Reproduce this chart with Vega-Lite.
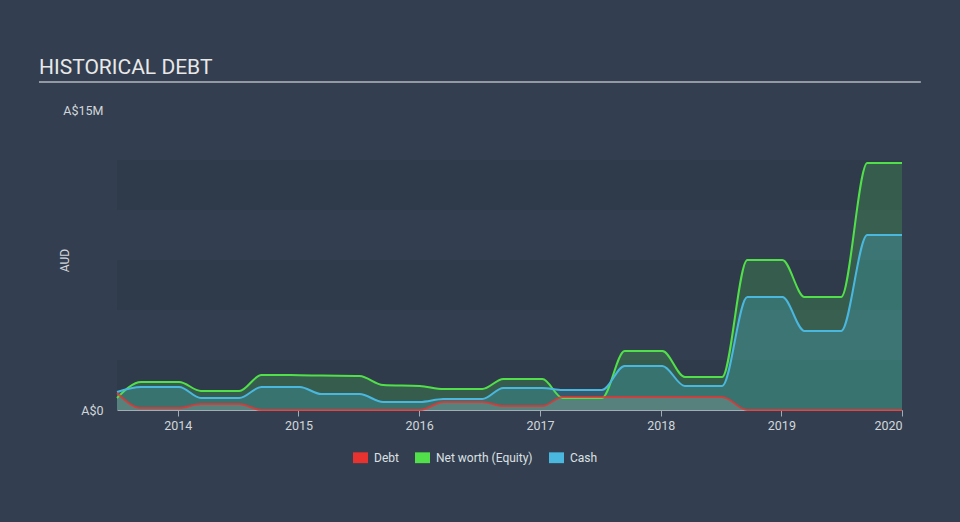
{
  "$schema": "https://vega.github.io/schema/vega-lite/v6.json",
  "width": 785,
  "height": 300,
  "autosize": {"type": "none"},
  "padding": {"left": 117, "top": 110, "right": 58, "bottom": 112},
  "background": "#333f50",
  "title": {
    "text": "HISTORICAL DEBT",
    "anchor": "start",
    "frame": "group",
    "dx": -78,
    "dy": 20,
    "offset": 6,
    "fontSize": 21,
    "font": "Roboto",
    "fontWeight": "normal",
    "color": "#e8e8e8",
    "baseline": "alphabetic"
  },
  "config": {
    "view": {"stroke": null},
    "font": "Roboto",
    "axis": {"labelFont": "Roboto", "titleFont": "Roboto"},
    "legend": {"labelFont": "Roboto"}
  },
  "datasets": {
    "bands": [
      {"lo": 0, "hi": 2500000},
      {"lo": 5000000, "hi": 7500000},
      {"lo": 10000000, "hi": 12500000}
    ],
    "fin": [
      {"d": "2013-07-01", "debt": 850000, "equity": 600000, "cash": 900000},
      {"d": "2013-09-12", "debt": 100000, "equity": 1400000, "cash": 1150000},
      {"d": "2014-01-05", "debt": 100000, "equity": 1400000, "cash": 1150000},
      {"d": "2014-03-12", "debt": 300000, "equity": 950000, "cash": 600000},
      {"d": "2014-07-06", "debt": 300000, "equity": 950000, "cash": 600000},
      {"d": "2014-09-11", "debt": 0, "equity": 1750000, "cash": 1150000},
      {"d": "2015-01-05", "debt": 0, "equity": 1740000, "cash": 1150000},
      {"d": "2015-03-11", "debt": 0, "equity": 1720000, "cash": 800000},
      {"d": "2015-07-05", "debt": 0, "equity": 1700000, "cash": 800000},
      {"d": "2015-09-14", "debt": 0, "equity": 1250000, "cash": 400000},
      {"d": "2016-01-03", "debt": 0, "equity": 1200000, "cash": 400000},
      {"d": "2016-03-15", "debt": 400000, "equity": 1050000, "cash": 550000},
      {"d": "2016-07-10", "debt": 400000, "equity": 1050000, "cash": 550000},
      {"d": "2016-09-12", "debt": 200000, "equity": 1550000, "cash": 1100000},
      {"d": "2017-01-08", "debt": 200000, "equity": 1550000, "cash": 1100000},
      {"d": "2017-03-10", "debt": 650000, "equity": 600000, "cash": 1000000},
      {"d": "2017-07-07", "debt": 650000, "equity": 600000, "cash": 1000000},
      {"d": "2017-09-14", "debt": 650000, "equity": 2950000, "cash": 2200000},
      {"d": "2018-01-06", "debt": 650000, "equity": 2950000, "cash": 2200000},
      {"d": "2018-03-15", "debt": 650000, "equity": 1650000, "cash": 1200000},
      {"d": "2018-07-06", "debt": 650000, "equity": 1650000, "cash": 1200000},
      {"d": "2018-09-20", "debt": 0, "equity": 7500000, "cash": 5650000},
      {"d": "2019-01-04", "debt": 0, "equity": 7500000, "cash": 5650000},
      {"d": "2019-03-12", "debt": 0, "equity": 5650000, "cash": 3950000},
      {"d": "2019-07-01", "debt": 0, "equity": 5650000, "cash": 3950000},
      {"d": "2019-09-18", "debt": 0, "equity": 12350000, "cash": 8750000},
      {"d": "2020-01-01", "debt": 0, "equity": 12350000, "cash": 8750000}
    ]
  },
  "layer": [
    {
      "data": {"name": "bands"},
      "mark": {"type": "rect", "color": "#2f3b4b"},
      "encoding": {
        "y": {
          "field": "lo",
          "type": "quantitative",
          "title": "AUD",
          "scale": {"domain": [0, 15000000], "nice": false, "zero": true},
          "axis": {
            "title": "AUD",
            "values": [0, 15000000],
            "labelExpr": "datum.value == 0 ? 'A$0' : 'A$15M'",
            "domain": false,
            "ticks": false,
            "grid": false,
            "labelPadding": 14,
            "labelColor": "#d2d6da",
            "labelFontSize": 12.5,
            "titleColor": "#d2d6da",
            "titleFontSize": 12,
            "titleFontWeight": "normal",
            "titleX": -53,
            "titleY": 150,
            "titleAngle": -90,
            "titleBaseline": "middle",
            "titleAlign": "center"
          }
        },
        "y2": {"field": "hi"}
      }
    },
    {
      "data": {"name": "fin"},
      "mark": {"type": "area", "interpolate": "monotone", "color": "#4fe34f", "opacity": 0.2},
      "encoding": {
        "x": {
          "field": "d",
          "type": "temporal",
          "title": null,
          "scale": {
            "type": "utc",
            "domain": [
              {"year": 2013, "month": 7, "date": 1, "utc": true},
              {"year": 2020, "month": 1, "date": 1, "utc": true}
            ]
          },
          "axis": {
            "title": null,
            "format": "%Y",
            "tickCount": {"interval": "year", "step": 1},
            "grid": false,
            "labelColor": "#d2d6da",
            "labelFontSize": 12.5,
            "domainColor": "#a3abb4",
            "tickColor": "#a3abb4",
            "tickSize": 6,
            "labelPadding": 3,
            "labelFlush": true
          }
        },
        "y": {"field": "equity", "type": "quantitative", "title": "AUD"}
      }
    },
    {
      "data": {"name": "fin"},
      "mark": {"type": "area", "interpolate": "monotone", "color": "#47b6dc", "opacity": 0.25},
      "encoding": {
        "x": {"field": "d", "type": "temporal", "title": null},
        "y": {"field": "cash", "type": "quantitative", "title": "AUD"}
      }
    },
    {
      "data": {"name": "fin"},
      "mark": {"type": "area", "interpolate": "monotone", "color": "#b4aca4", "opacity": 0.25},
      "encoding": {
        "x": {"field": "d", "type": "temporal", "title": null},
        "y": {"field": "debt", "type": "quantitative", "title": "AUD"}
      }
    },
    {
      "data": {"name": "fin"},
      "transform": [{"fold": ["equity", "cash", "debt"], "as": ["series", "value"]}],
      "mark": {"type": "line", "interpolate": "monotone", "strokeWidth": 2},
      "encoding": {
        "x": {"field": "d", "type": "temporal", "title": null},
        "y": {"field": "value", "type": "quantitative", "title": "AUD"},
        "color": {
          "field": "series",
          "type": "nominal",
          "scale": {"domain": ["debt", "equity", "cash"], "range": ["#e8322f", "#52e04a", "#4ab8de"]},
          "legend": {
            "orient": "none",
            "legendX": 236,
            "legendY": 340,
            "direction": "horizontal",
            "title": null,
            "labelExpr": "datum.value == 'debt' ? 'Debt' : datum.value == 'equity' ? 'Net worth (Equity)' : 'Cash'",
            "symbolType": "M-1,-0.72H1V0.72H-1Z",
            "symbolSize": 225,
            "labelFontSize": 12,
            "labelColor": "#dde0e3",
            "columnPadding": 16,
            "labelOffset": 6,
            "symbolStrokeWidth": 0,
            "encode": {
              "symbols": {
                "update": {
                  "fill": {"scale": "color", "field": "value"},
                  "strokeWidth": {"value": 0},
                  "opacity": {"value": 1}
                }
              }
            }
          }
        },
        "strokeOpacity": {"condition": {"test": "datum.series == 'debt'", "value": 0.8}, "value": 1}
      }
    },
    {
      "data": {"values": [{}]},
      "mark": {"type": "rule", "color": "#b4b9bf", "strokeWidth": 1.5, "clip": false},
      "encoding": {
        "x": {"datum": {"year": 2012, "month": 11, "date": 7, "utc": true}, "type": "temporal"},
        "x2": {"datum": {"year": 2020, "month": 2, "date": 27, "utc": true}},
        "y": {"datum": 16400000, "type": "quantitative"}
      }
    }
  ]
}
